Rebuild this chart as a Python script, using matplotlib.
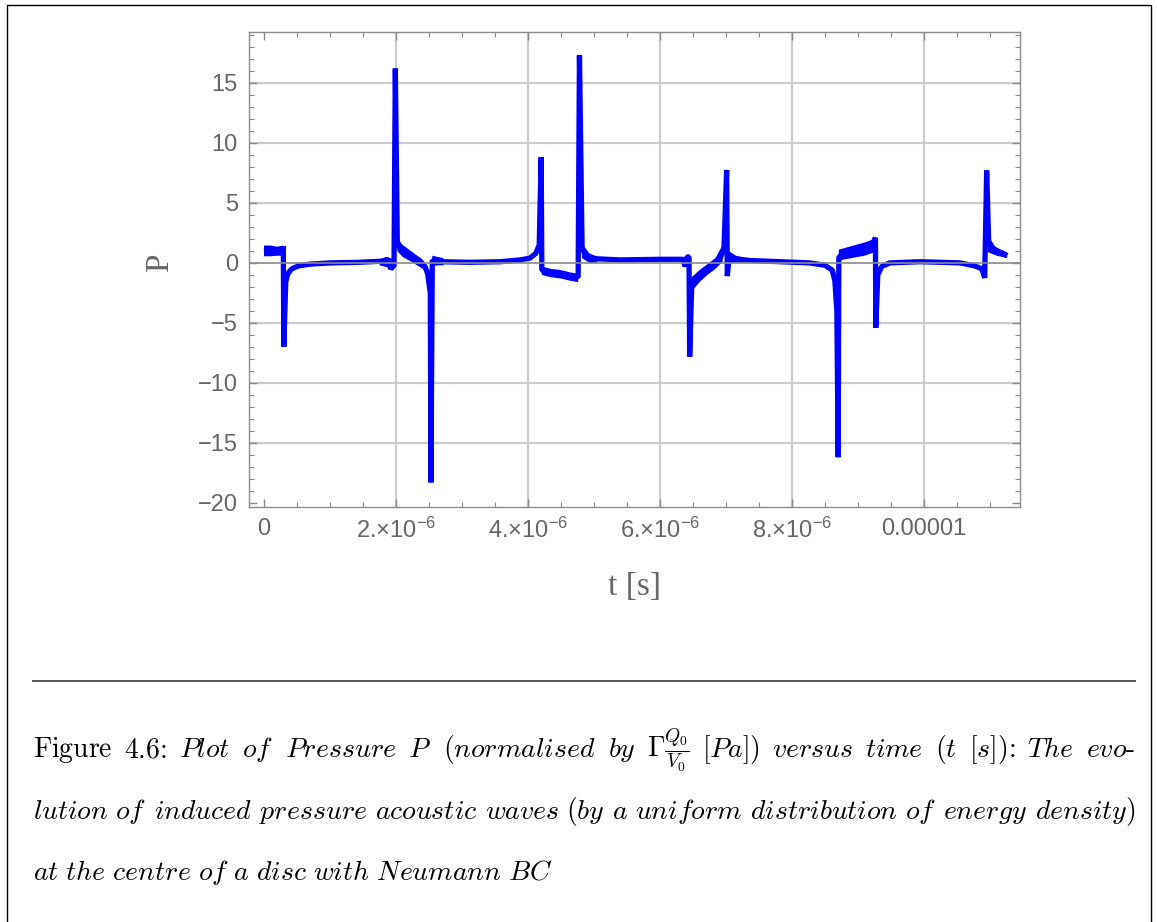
import numpy as np
import matplotlib
matplotlib.use("Agg")
import matplotlib.pyplot as plt
from matplotlib.patches import Rectangle
from matplotlib.lines import Line2D

# ---------------- data (time in microseconds, pressure normalised) ----------------
t_us = [0.00, 0.29, 0.293, 0.30, 0.33, 0.36, 0.42, 0.52, 0.70, 1.00, 1.45, 1.80, 1.88, 1.92,
        1.97, 1.99, 2.02, 2.06, 2.14, 2.24, 2.36, 2.44, 2.48, 2.52, 2.53, 2.55, 2.67, 3.12,
        3.58, 3.88, 4.03, 4.12, 4.17, 4.20, 4.21, 4.33, 4.48, 4.64, 4.76, 4.78, 4.82, 4.88,
        5.02, 5.39, 6.00, 6.35, 6.38, 6.41, 6.44, 6.45, 6.48, 6.53, 6.61, 6.73, 6.83, 6.92,
        6.97, 7.01, 7.02, 7.05, 7.14, 7.36, 7.82, 8.27, 8.50, 8.61, 8.65, 8.68, 8.70, 8.71,
        8.88, 9.03, 9.18, 9.24, 9.265, 9.27, 9.30, 9.36, 9.48, 9.94, 10.55, 10.77, 10.88,
        10.92, 10.95, 10.98, 11.05, 11.15, 11.26]
P_vals = [1.0, 1.1, 1.4, -7.0, -1.6, -0.9, -0.5, -0.25, -0.1, 0.0, 0.05, 0.15, 0.3, -0.5,
          -0.2, 16.2, 1.8, 1.2, 0.9, 0.6, 0.2, -0.3, -0.9, -2.5, -18.3, 0.2, 0.1, 0.05,
          0.1, 0.25, 0.4, 0.8, 1.5, 8.8, -0.6, -0.8, -0.9, -1.1, -1.2, 17.3, 1.2, 0.6,
          0.35, 0.25, 0.3, 0.3, -0.3, 0.5, 0.5, -7.8, -2.0, -1.3, -0.9, -0.5, -0.1, 0.5,
          1.2, 7.75, -1.1, 0.6, 0.35, 0.2, 0.1, 0.0, -0.2, -0.6, -1.5, -4.0, -16.2, 0.5,
          0.8, 1.1, 1.5, 1.8, 2.1, -5.4, -1.0, -0.3, 0.0, 0.1, 0.0, -0.25, -0.5,
          -1.25, 7.7, 1.8, 1.2, 0.9, 0.6]

# noisy envelopes (NaN separates the segments)
nan = float("nan")
band_t_us = [0.00, 0.10, 0.20, 0.29, nan,
             1.75, 1.86, 1.97, nan,
             2.02, 2.10, 2.20, 2.32, 2.44, nan,
             2.55, 2.63, 2.72, nan,
             4.21, 4.35, 4.50, 4.65, 4.76, nan,
             4.82, 4.93, 5.05, nan,
             6.48, 6.60, 6.72, 6.84, 6.95, nan,
             7.04, 7.15, 7.30, nan,
             8.71, 8.90, 9.10, 9.26, nan,
             10.97, 11.10, 11.26]
band_lo = [0.55, 0.55, 0.6, 0.6, nan,
           -0.2, -0.35, -0.6, nan,
           1.0, 0.5, 0.2, -0.2, -0.6, nan,
           -0.3, -0.2, -0.2, nan,
           -1.0, -1.2, -1.3, -1.5, -1.6, nan,
           0.4, 0.0, 0.0, nan,
           -2.4, -1.6, -1.0, -0.5, 0.1, nan,
           0.0, 0.0, 0.05, nan,
           0.2, 0.4, 0.6, 0.9, nan,
           0.9, 0.6, 0.4]
band_hi = [1.45, 1.45, 1.35, 1.45, nan,
           0.3, 0.5, 0.3, nan,
           2.0, 1.5, 1.1, 0.6, 0.0, nan,
           0.6, 0.5, 0.4, nan,
           -0.3, -0.5, -0.6, -0.8, -0.9, nan,
           1.6, 0.8, 0.5, nan,
           -1.2, -0.6, -0.1, 0.4, 1.5, nan,
           1.0, 0.6, 0.35, nan,
           1.1, 1.4, 1.7, 2.0, nan,
           2.0, 1.2, 0.9]

x_ticks = [0, 2e-6, 4e-6, 6e-6, 8e-6, 1e-5]
x_tick_labels = ["0", "2.\u00d710$^{-6}$", "4.\u00d710$^{-6}$", "6.\u00d710$^{-6}$",
                 "8.\u00d710$^{-6}$", "0.00001"]
y_ticks = [-20, -15, -10, -5, 0, 5, 10, 15]

caption_line1 = [("rm", "Figure"), ("rm:", "4.6"), ("it", "Plot"), ("it", "of"), ("it", "Pressure"),
                 ("it", "P"), ("it", "(normalised"), ("it", "by"), ("math", r"\Gamma\frac{Q_0}{V_0}"),
                 ("it", "[Pa])"), ("it", "versus"), ("it", "time"), ("it", "(t"), ("it:", "[s])"),
                 ("it", "The"), ("it-", "evo")]
caption_line2 = "lution of induced pressure acoustic waves (by a uniform distribution of energy density)"
caption_line3 = "at the centre of a disc with Neumann BC"

# ---------------- styling ----------------
plt.rcParams["mathtext.fontset"] = "custom"
plt.rcParams["mathtext.rm"] = "Liberation Sans"
plt.rcParams["mathtext.it"] = "Liberation Sans:italic"
plt.rcParams["font.family"] = "Liberation Sans"

W, H = 1157, 922
fig = plt.figure(figsize=(W / 100, H / 100), dpi=100)
fig.patch.set_facecolor("white")

ax_l, ax_r, ax_t, ax_b = 249, 1020, 32, 507
ax = fig.add_axes([ax_l / W, 1 - ax_b / H, (ax_r - ax_l) / W, (ax_b - ax_t) / H])

t = np.array(t_us) * 1e-6
P = np.array(P_vals)
bt = np.ma.masked_invalid(np.array(band_t_us) * 1e-6)
blo = np.ma.masked_invalid(np.array(band_lo))
bhi = np.ma.masked_invalid(np.array(band_hi))

blue = "#0000ff"
ax.fill_between(bt, blo, bhi, color=blue, lw=0, zorder=3)
ax.plot(t, P, color=blue, lw=3.8, solid_joinstyle="bevel", solid_capstyle="butt", zorder=4)

ax.axhline(0, color="#8a8a8a", lw=1.2, zorder=5)

ax.set_xlim(-0.227e-6, 11.455e-6)
ax.set_ylim(-20.35, 19.25)

grey_txt = "#666666"
ax.set_xticks(x_ticks)
ax.set_xticklabels(x_tick_labels)
ax.set_xticks(np.arange(0, 11.5e-6, 0.5e-6), minor=True)
ax.set_yticks(y_ticks)
ax.set_yticklabels([str(v).replace("-", "\u2212") for v in y_ticks])
ax.set_yticks(np.arange(-20, 20, 1), minor=True)

ax.tick_params(which="both", direction="in", top=True, right=True, color="#888888",
               labelcolor=grey_txt, labelsize=17)
ax.tick_params(which="major", length=6, width=1.0, pad=8)
ax.tick_params(which="minor", length=3.5, width=0.8)

for xv in x_ticks[1:]:
    ax.axvline(xv, color="#cccccc", lw=1.6, zorder=1)
for yv in y_ticks:
    if yv not in (0, -20):
        ax.axhline(yv, color="#cccccc", lw=1.6, zorder=1)

for s in ax.spines.values():
    s.set_color("#8c8c8c")
    s.set_linewidth(1.0)

ax.set_xlabel("t [s]", family="Liberation Serif", fontsize=24, color=grey_txt)
ax.xaxis.set_label_coords(0.5, -0.168)
ax.xaxis.label.set_va("center")
ax.set_ylabel("P", family="Liberation Serif", fontsize=24, color=grey_txt)
ax.yaxis.set_label_coords((160 - ax_l) / (ax_r - ax_l), (ax_b - 263) / (ax_b - ax_t))
ax.yaxis.label.set_va("center")

# ---------------- frame and caption ----------------
fig.patches.append(Rectangle((7 / W, -0.01), (1151 - 7) / W, 1 - 5 / H + 0.01,
                             transform=fig.transFigure, fill=False, ec="black", lw=1.0))
fig.lines.append(Line2D([33 / W, 1135 / W], [1 - 681 / H, 1 - 681 / H],
                        transform=fig.transFigure, color="#555555", lw=1.4))

cap_fs = 20
x0, x1 = 33, 1135
cap_family = ["cmr10", "DejaVu Serif"]


def math_word(kind, w):
    if kind == "rm":
        return r"$\mathrm{" + w + "}$"
    if kind == "rm:":
        return r"$\mathrm{" + w + "}$:"
    if kind == "it":
        return r"$\mathit{" + w + "}$"
    if kind == "it:":
        return r"$\mathit{" + w + "}$:"
    if kind == "it-":
        return r"$\mathit{" + w + "}$-"
    return "$" + w + "$"


def place_justified(words, baseline):
    texts = [fig.text(0, 1 - baseline / H, math_word(k, w), fontsize=cap_fs, color="black",
                      math_fontfamily="cm", family=cap_family, va="baseline")
             for k, w in words]
    fig.canvas.draw()
    r = fig.canvas.get_renderer()
    widths = [tx.get_window_extent(r).width for tx in texts]
    gap = (x1 - x0 - sum(widths)) / (len(words) - 1)
    x = x0
    for tx, wd in zip(texts, widths):
        tx.set_x(x / W)
        x += wd + gap


place_justified(caption_line1, 757)
place_justified([("it", w) for w in caption_line2.split()], 819)
fig.text(x0 / W, 1 - 880 / H, r"$\mathit{" + caption_line3.replace(" ", r"\ ") + "}$",
         fontsize=cap_fs, color="black", math_fontfamily="cm", va="baseline")

fig.savefig("out.png", dpi=100)
